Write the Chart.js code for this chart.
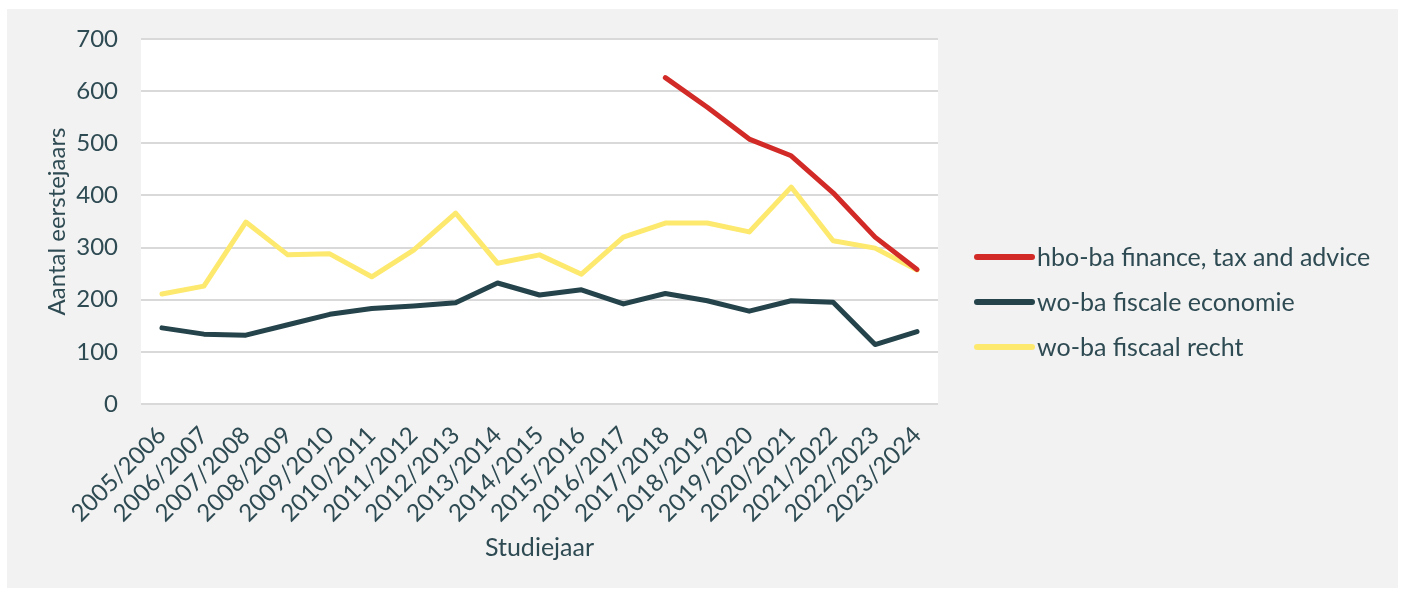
<!DOCTYPE html>
<html>
<head>
<meta charset="utf-8">
<script src="https://cdn.jsdelivr.net/npm/chart.js@4/dist/chart.umd.min.js"></script>
<style>
  html, body { margin: 0; padding: 0; background: #ffffff; }
  #wrap {
    position: absolute; left: 7px; top: 9px;
    width: 1391px; height: 579px;
    background: #f2f2f2;
  }
</style>
</head>
<body>
<div id="wrap"><canvas id="studChart" width="1391" height="579"></canvas></div>
<script>
// Studiejaren (x-as)
const years = ['2005/2006', '2006/2007', '2007/2008', '2008/2009', '2009/2010', '2010/2011',
  '2011/2012', '2012/2013', '2013/2014', '2014/2015', '2015/2016', '2016/2017',
  '2017/2018', '2018/2019', '2019/2020', '2020/2021', '2021/2022', '2022/2023', '2023/2024'];

// aantal eerstejaars per opleiding
const hboFinance = [null, null, null, null, null, null, null, null, null, null, null, null,
  626, 569, 508, 476, 405, 320, 258];
const woFiscaleEconomie = [146, 134, 132, 152, 172, 183, 188, 194, 232, 209, 219, 192,
  212, 198, 178, 198, 195, 114, 139];
const woFiscaalRecht = [211, 226, 349, 286, 288, 244, 295, 366, 270, 286, 249, 320,
  347, 347, 330, 416, 313, 299, 257];

const yTicks = [0, 100, 200, 300, 400, 500, 600, 700];

const textColor = '#2e4a52';
const fontFamily = 'Lato, "Noto Sans", sans-serif';

// witte achtergrond voor het plotgebied
const plotBg = {
  id: 'plotBg',
  beforeDraw(chart) {
    const { ctx, chartArea } = chart;
    ctx.save();
    ctx.fillStyle = '#ffffff';
    ctx.fillRect(chartArea.left, chartArea.top, chartArea.right - chartArea.left, chartArea.bottom - chartArea.top);
    ctx.restore();
  }
};

// legenda rechts naast het plotgebied
const sideLegend = {
  id: 'sideLegend',
  afterDraw(chart, args, opts) {
    const { ctx, chartArea } = chart;
    const x0 = chartArea.right + opts.gap;
    ctx.save();
    ctx.font = opts.fontSize + 'px ' + fontFamily;
    ctx.textBaseline = 'middle';
    ctx.textAlign = 'left';
    chart.data.datasets.forEach((ds, i) => {
      const y = opts.top + i * opts.step;
      ctx.strokeStyle = ds.borderColor;
      ctx.lineWidth = 6;
      ctx.lineCap = 'round';
      ctx.beginPath();
      ctx.moveTo(x0, y);
      ctx.lineTo(x0 + opts.lineLen, y);
      ctx.stroke();
      ctx.fillStyle = textColor;
      ctx.fillText(ds.label, x0 + opts.lineLen + 5, y + 1);
    });
    ctx.restore();
  }
};

function lineSet(label, data, color) {
  return {
    label: label,
    data: data,
    borderColor: color,
    backgroundColor: color,
    borderWidth: 5,
    borderCapStyle: 'round',
    borderJoinStyle: 'round',
    pointRadius: 0,
    tension: 0,
    fill: false,
    spanGaps: false,
  };
}

const ctx = document.getElementById('studChart').getContext('2d');
new Chart(ctx, {
  type: 'line',
  data: {
    labels: years,
    datasets: [
      lineSet('hbo-ba finance, tax and advice', hboFinance, '#d22b27'),
      lineSet('wo-ba fiscale economie', woFiscaleEconomie, '#24434a'),
      lineSet('wo-ba fiscaal recht', woFiscaalRecht, '#fde96e'),
    ],
  },
  options: {
    responsive: false,
    animation: false,
    layout: { padding: { left: 0, right: 460, top: 30, bottom: 0 } },
    plugins: {
      tooltip: { enabled: false },
      legend: { display: false },
      sideLegend: { gap: 39, lineLen: 55, top: 248, step: 45, fontSize: 25 },
    },
    scales: {
      x: {
        type: 'category',
        offset: true,
        grid: { display: false },
        border: { display: false },
        ticks: {
          color: textColor,
          font: { family: fontFamily, size: 24 },
          minRotation: 45,
          maxRotation: 45,
          autoSkip: false,
          padding: 9,
        },
        title: {
          display: true,
          text: 'Studiejaar',
          color: textColor,
          font: { family: fontFamily, size: 25 },
          padding: { top: 0, bottom: 25 },
        },
        afterFit(scale) { scale.height = 184; },
      },
      y: {
        min: 0,
        max: 700,
        afterBuildTicks(axis) {
          axis.ticks = yTicks.map(v => ({ value: v }));
        },
        grid: { color: '#d9d9d9', lineWidth: 2, drawTicks: false },
        border: { display: false },
        ticks: {
          color: textColor,
          font: { family: fontFamily, size: 24 },
          padding: 23,
        },
        title: {
          display: true,
          text: 'Aantal eerstejaars',
          color: textColor,
          font: { family: fontFamily, size: 24 },
          padding: { top: 36, bottom: 0 },
        },
        afterFit(scale) {
          scale.width = 134;
          scale.paddingTop = 0;
          scale.paddingBottom = 0;
        },
      },
    },
  },
  plugins: [plotBg, sideLegend],
});
</script>
</body>
</html>
